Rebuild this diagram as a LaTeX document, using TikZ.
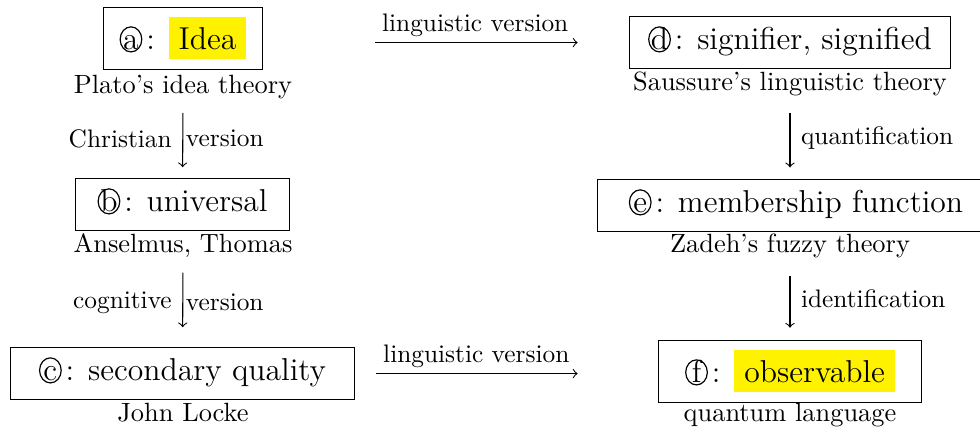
\documentclass[tikz,border=0pt]{standalone}
\usepackage{tikz}
\usetikzlibrary{arrows,positioning,calc}
\usepackage{xcolor}

\newcommand{\hlbox}[1]{{\setlength{\fboxsep}{3.8pt}\colorbox{yellow}{#1}}}
\newcommand{\ringed}[1]{\tikz[baseline=0pt]{%
    \node[inner sep=0pt,anchor=base,minimum size=0pt,text height=,text depth=] at (0pt,0pt) {#1};
    \draw[line width=0.45pt] (0pt,3.65pt) ellipse [x radius=4.1pt,y radius=4.75pt];}\kern1.5pt}

\begin{document}
\begin{tikzpicture}[x=0.379pt,y=-0.379pt,
    concept/.style={draw,anchor=base,inner xsep=0pt,inner ysep=3.8pt,text height=8.4pt,text depth=3.5pt,font=\fontsize{12}{14.4}\selectfont},
    marked/.style={concept,text height=12.1pt,text depth=3.8pt},
    theory/.style={anchor=base,inner sep=0pt,font=\fontsize{10}{12}\selectfont},
    lab/.style={inner sep=1pt,font=\fontsize{9.6}{11.5}\selectfont}]
    \useasboundingbox (0,0) rectangle (980,432);

    % left column
    \node[marked,minimum width=60.6pt] (a) at (183,49) {\ringed{a}: \hlbox{Idea}};
    \node[theory] (pa) at (183,93) {Plato's idea theory};
    \node[concept,minimum width=81.4pt] (b) at (182.5,211) {\ringed{b}: universal};
    \node[theory] (pb) at (183,252) {Anselmus, Thomas};
    \node[concept,minimum width=130.7pt] (c) at (182.5,380) {\ringed{c}: secondary quality};
    \node[theory] (pc) at (183,421) {John Locke};

    % right column
    \node[concept,minimum width=122pt] (d) at (790,49) {\ringed{d}: signifier, signified};
    \node[theory] (pd) at (790,90) {Saussure's linguistic theory};
    \node[concept,minimum width=150.8pt] (e) at (796,212) {\ringed{e}: membership function};
    \node[theory] (pe) at (790,252) {Zadeh's fuzzy theory};
    \node[marked,minimum width=100pt] (f) at (790,382) {\ringed{f}: \hlbox{observable}};
    \node[theory] (pf) at (790,421) {quantum language};

    % vertical arrows
    \draw[->,shorten <=5.3pt,shorten >=4.2pt] (pa) -- node[lab,left=3pt] {Christian} node[lab,right=0pt] {version} (b);
    \draw[->,shorten <=5.7pt,shorten >=7.6pt] (pb) -- node[lab,left=3pt] {cognitive} node[lab,right=0pt] {version} (c);
    \draw[->,shorten <=6.4pt,shorten >=4.5pt] (pd) -- node[lab,right=3pt] {quantification} (pd |- e.north);
    \draw[->,shorten <=6.8pt,shorten >=4.5pt] (pe) -- node[lab,right=3pt] {identification} (f);

    % horizontal arrows
    \draw[->,shorten <=42.4pt,shorten >=19.3pt] (a.east |- d.west) -- node[lab,above=1pt,pos=0.58] {linguistic version} (d.west);
    \draw[->,shorten <=7.6pt,shorten >=30.3pt] (c.east) -- node[lab,above=1pt,pos=0.40] {linguistic version} (c.east -| f.west);
\end{tikzpicture}
\end{document}
